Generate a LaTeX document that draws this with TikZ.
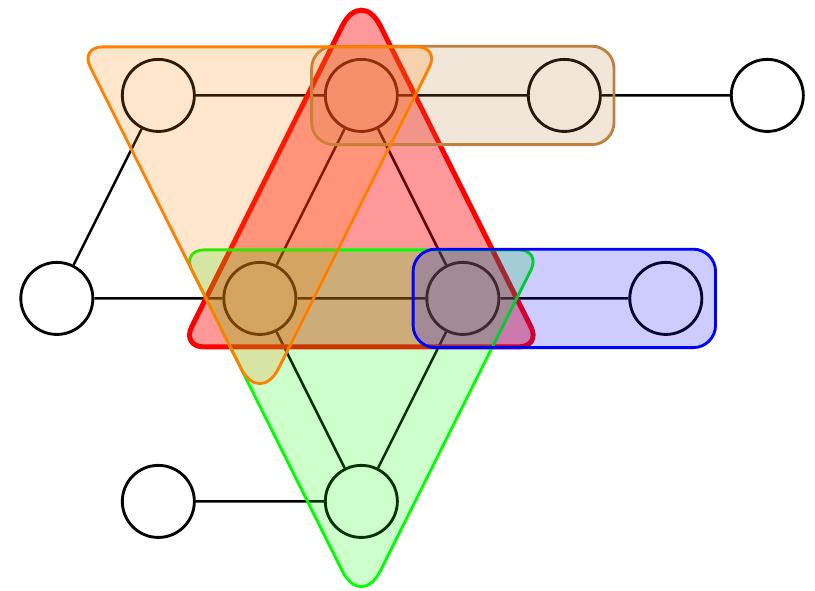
\documentclass[tikz,border=0pt]{standalone}
\usetikzlibrary{calc}

\begin{document}
\begin{tikzpicture}[vertex/.style={circle, draw, fill=white, line width=0.8pt, minimum size=0.71cm, inner sep=0pt},
	hyper/.style={line width=0.8pt, fill opacity=0.2, draw opacity=1}]
	\useasboundingbox (-0.56, -2.88) rectangle (7.47, 2.94);
	% Vertices and edges:
	\node[vertex] (a) at (1, 2){};
	\node[vertex] (b) at (3, 2){};
	\node[vertex] (c) at (5, 2){};
	\node[vertex] (d) at (7, 2){};
	\node[vertex] (e) at (0, 0){};
	\node[vertex] (f) at (2, 0){};
	\node[vertex] (g) at (4, 0){};
	\node[vertex] (h) at (6, 0){};
	\node[vertex] (i) at (1, -2){};
	\node[vertex] (j) at (3, -2){};
	\draw[line width=0.7pt] (a) -- (b) (b) -- (c) (c) -- (d) (a) -- (e) (e) -- (f) (f) -- (g) (g) -- (h);
	\draw[line width=0.7pt] (b) -- (f) (b) -- (g) (f) -- (j) (g) -- (j) (i) -- (j);
	% Hyperedges:
	\draw[hyper, line width=1.4pt, draw=red, fill=red, fill opacity=0.4] ($(f)!0.5!(g)+(0,-0.478)$) [rounded corners=0.22cm] -- ($(g)+(0.77,-0.478)$) [rounded corners=0.42cm] -- ($(b)+(0,1.06)$) [rounded corners=0.22cm] -- ($(f)+(-0.77,-0.478)$) -- cycle;
	\draw[hyper, draw=brown, fill=brown, rounded corners=0.22cm] ($(b)+(-0.49,-0.485)$) rectangle ($(c)+(0.49,0.485)$);
	\draw[hyper, draw=green, fill=green] ($(f)!0.5!(g)+(0,0.478)$) [rounded corners=0.22cm] -- ($(g)+(0.77,0.478)$) [rounded corners=0.42cm] -- ($(j)+(0,-1.06)$) [rounded corners=0.22cm] -- ($(f)+(-0.77,0.478)$) -- cycle;
	\draw[hyper, draw=orange, fill=orange] ($(a)!0.5!(b)+(0,0.478)$) [rounded corners=0.22cm] -- ($(b)+(0.77,0.478)$) [rounded corners=0.42cm] -- ($(f)+(0,-1.06)$) [rounded corners=0.22cm] -- ($(a)+(-0.77,0.478)$) -- cycle;
	\draw[hyper, draw=blue, fill=blue, rounded corners=0.22cm] ($(g)+(-0.49,-0.485)$) rectangle ($(h)+(0.49,0.485)$);
\end{tikzpicture}
\end{document}
